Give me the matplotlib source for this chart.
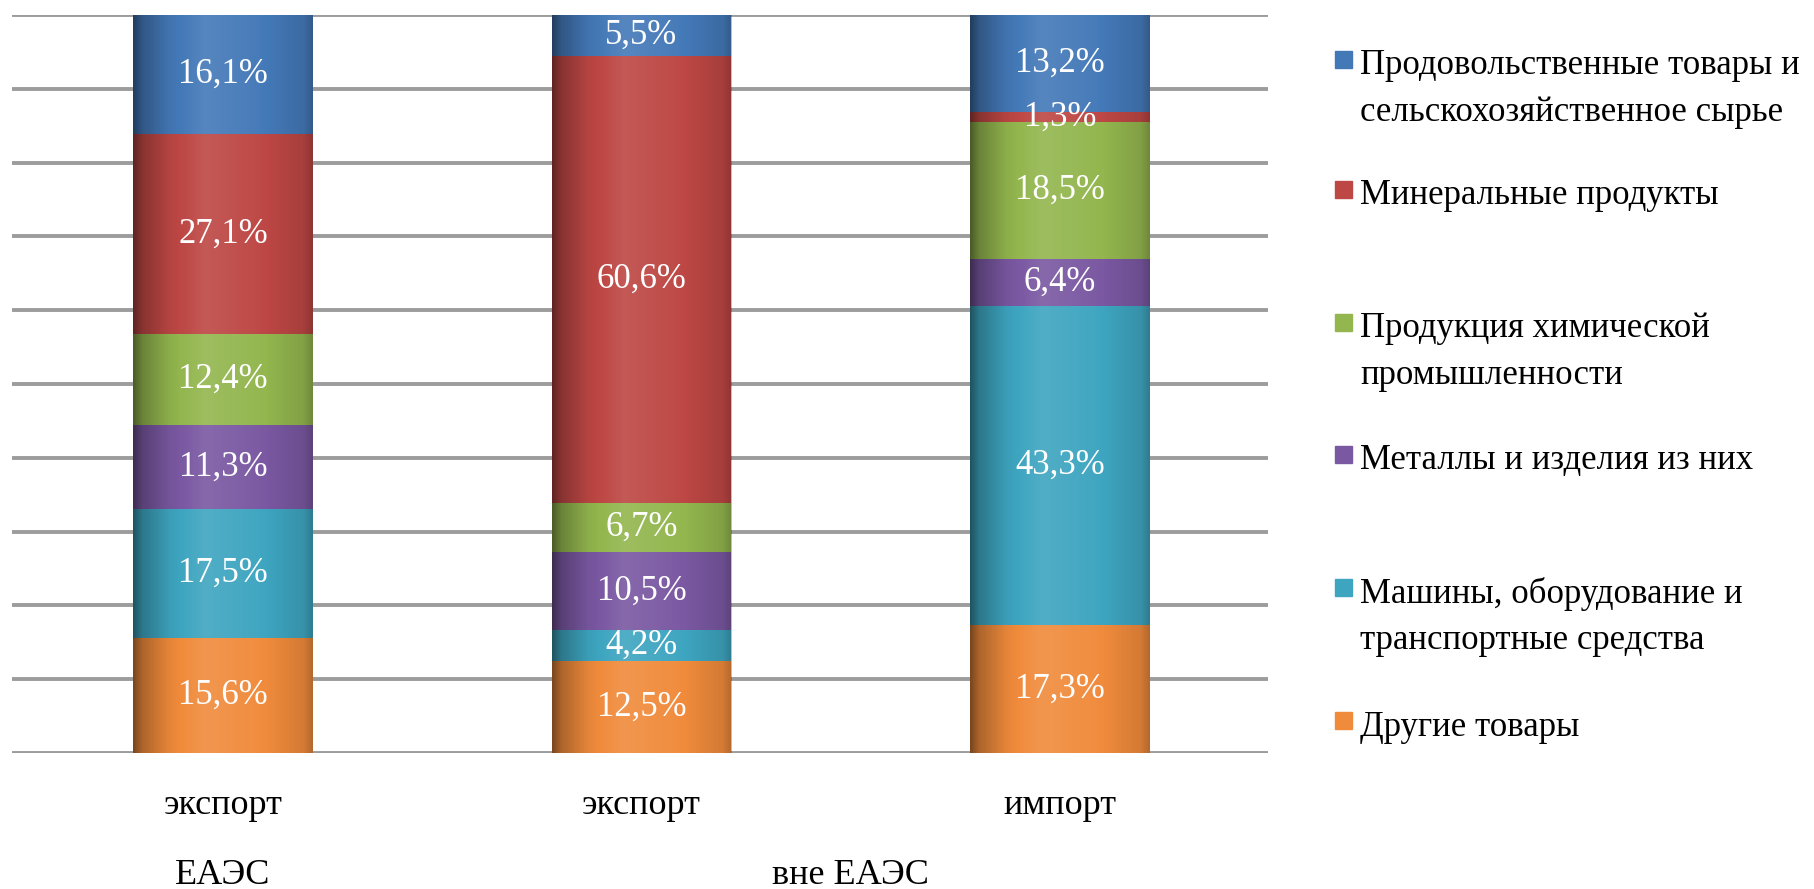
import numpy as np
import matplotlib
matplotlib.use("Agg")
import matplotlib.pyplot as plt
from matplotlib.patches import Rectangle
import matplotlib.transforms as mtransforms

plt.rcParams["font.family"] = ["Liberation Serif", "DejaVu Serif"]

# categories (bars) and tick labels
bar_labels = ["экспорт", "экспорт", "импорт"]
group_labels = ["ЕАЭС", "вне ЕАЭС"]
group_pos = [0, 1.5]

# series, bottom to top of the stack
series_names = [
    "Другие товары",
    "Машины, оборудование и\nтранспортные средства",
    "Металлы и изделия из них",
    "Продукция химической\nпромышленности",
    "Минеральные продукты",
    "Продовольственные товары и\nсельскохозяйственное сырье",
]
other = [15.6, 12.5, 17.3]
machinery = [17.5, 4.2, 43.3]
metals = [11.3, 10.5, 6.4]
chemicals = [12.4, 6.7, 18.5]
minerals = [27.1, 60.6, 1.3]
food = [16.1, 5.5, 13.2]
series_values = [other, machinery, metals, chemicals, minerals, food]
colors = ["#F08B3C", "#3EA5C0", "#7A58A2", "#93B64E", "#BD4744", "#4479B8"]

W, H = 1814, 889
fig = plt.figure(figsize=(W / 100, H / 100), dpi=100)
ax = fig.add_axes([12 / W, 1 - 753 / H, 1256 / W, 738 / H])

x = np.arange(len(bar_labels))
width = 0.428
bottom = np.zeros(len(x))
for name, vals, col in zip(series_names, series_values, colors):
    bars = ax.bar(x, vals, width, bottom=bottom, color=col, label=name, zorder=2)
    ax.bar_label(bars, labels=[f"{v:.1f}%".replace(".", ",") for v in vals],
                 label_type="center", color="white", fontsize=25, zorder=5)
    bottom += np.array(vals)

# cylinder-like shading over each bar
xs = np.linspace(0, 1, 200)
shade = np.interp(xs, [0, 0.05, 0.2, 0.4, 0.7, 0.95, 1],
                  [-0.5, -0.28, -0.05, 0.1, 0.02, -0.12, -0.25])
rgba = np.zeros((1, len(xs), 4))
rgba[0, :, :3] = np.where(shade[:, None] > 0, 1.0, 0.0)
rgba[0, :, 3] = np.abs(shade)
for xi, tot in zip(x, bottom):
    ax.imshow(rgba, extent=[xi - width / 2, xi + width / 2, 0, tot],
              aspect="auto", zorder=3, interpolation="bilinear")

ax.set_xlim(-0.504, 2.497)
ax.set_ylim(0, 100)
ax.set_yticks(np.arange(0, 101, 10))
ax.yaxis.grid(True, color="#9c9c9c", linewidth=2.8, zorder=0)
ax.set_axisbelow(True)
ax.tick_params(axis="y", left=False, labelleft=False)
ax.set_xticks(x)
ax.set_xticklabels(bar_labels, fontsize=26)
ax.tick_params(axis="x", length=0, pad=26)
for s in ax.spines.values():
    s.set_visible(False)

trans = mtransforms.blended_transform_factory(ax.transData, ax.transAxes)
for gp, gl in zip(group_pos, group_labels):
    ax.text(gp, -0.161, gl, transform=trans, ha="center",
            va="center_baseline", fontsize=26)

# legend drawn like the original (marker beside first line)
legend_y = [62, 192, 325, 457, 590, 723]
line_gap = 46.5
for name, col, ly in zip(series_names[::-1], colors[::-1], legend_y):
    for i, line in enumerate(name.split("\n")):
        fig.text(1360 / W, 1 - (ly + i * line_gap) / H, line, ha="left",
                 va="center_baseline", fontsize=25)
    fig.patches.append(Rectangle((1335 / W, 1 - (ly + 6) / H), 17 / W, 17 / H,
                                 transform=fig.transFigure, color=col))

fig.savefig("out.png", dpi=100)
